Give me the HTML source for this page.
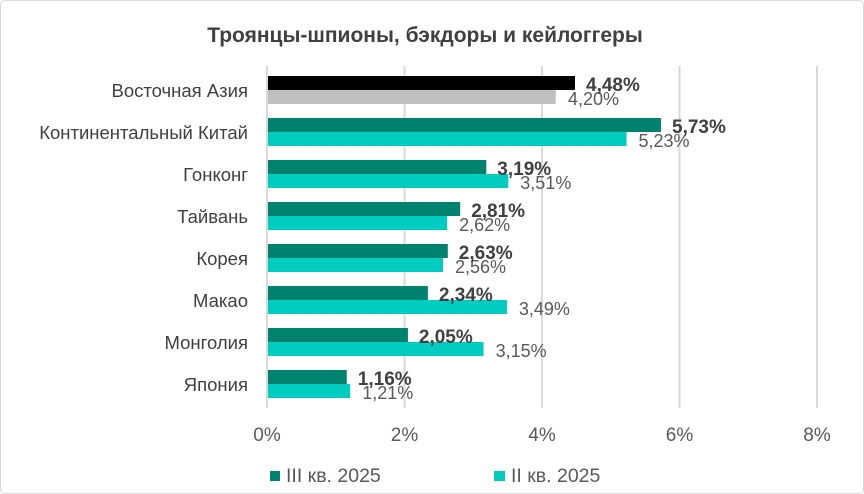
<!DOCTYPE html><html><head><meta charset="utf-8"><style>body{margin:0;background:#fff}svg{display:block;font-family:"Liberation Sans",sans-serif}</style></head><body>
<svg width="864" height="494" viewBox="0 0 864 494" xmlns="http://www.w3.org/2000/svg">
<rect x="0.5" y="0.5" width="863" height="493" rx="4" fill="#fff" stroke="#d9d9d9"/>
<text x="425" y="42" text-anchor="middle" font-size="21" font-weight="bold" fill="#404040">Троянцы-шпионы, бэкдоры и кейлоггеры</text>
<g stroke="#d9d9d9" stroke-width="2">
<line x1="267" y1="66" x2="267" y2="408"/><line x1="404.5" y1="66" x2="404.5" y2="408"/><line x1="542" y1="66" x2="542" y2="408"/><line x1="679.5" y1="66" x2="679.5" y2="408"/><line x1="817" y1="66" x2="817" y2="408"/>
</g>
<g font-size="19" fill="#595959" text-anchor="middle">
<text x="267" y="441">0%</text><text x="404.5" y="441">2%</text><text x="542" y="441">4%</text><text x="679.5" y="441">6%</text><text x="817" y="441">8%</text>
</g>
<g font-size="18.5" fill="#404040" text-anchor="end">
<text x="248" y="97">Восточная Азия</text>
<text x="248" y="139">Континентальный Китай</text>
<text x="248" y="181">Гонконг</text>
<text x="248" y="223">Тайвань</text>
<text x="248" y="265">Корея</text>
<text x="248" y="307">Макао</text>
<text x="248" y="349">Монголия</text>
<text x="248" y="391">Япония</text>
</g>
<rect x="268" y="76" width="307" height="14" fill="#000"/><rect x="268" y="90" width="287.75" height="14" fill="#bfbfbf"/>
<rect x="268" y="118" width="392.94" height="14" fill="#00836e"/><rect x="268" y="132" width="358.56" height="14" fill="#00cdc0"/>
<rect x="268" y="160" width="218.31" height="14" fill="#00836e"/><rect x="268" y="174" width="240.31" height="14" fill="#00cdc0"/>
<rect x="268" y="202" width="192.19" height="14" fill="#00836e"/><rect x="268" y="216" width="179.13" height="14" fill="#00cdc0"/>
<rect x="268" y="244" width="179.81" height="14" fill="#00836e"/><rect x="268" y="258" width="175" height="14" fill="#00cdc0"/>
<rect x="268" y="286" width="159.88" height="14" fill="#00836e"/><rect x="268" y="300" width="238.94" height="14" fill="#00cdc0"/>
<rect x="268" y="328" width="139.94" height="14" fill="#00836e"/><rect x="268" y="342" width="215.56" height="14" fill="#00cdc0"/>
<rect x="268" y="370" width="78.75" height="14" fill="#00836e"/><rect x="268" y="384" width="82.19" height="14" fill="#00cdc0"/>
<g font-size="18" fill="#595959">
<text x="568" y="105">4,20%</text>
<text x="638.5" y="147">5,23%</text>
<text x="520.3" y="189">3,51%</text>
<text x="459.1" y="231">2,62%</text>
<text x="455" y="273">2,56%</text>
<text x="518.9" y="315">3,49%</text>
<text x="495.6" y="357">3,15%</text>
<text x="362.2" y="399">1,21%</text>
</g>
<g font-size="19" font-weight="bold" fill="#404040">
<text x="586" y="91">4,48%</text>
<text x="672" y="133">5,73%</text>
<text x="497.3" y="175">3,19%</text>
<text x="471.2" y="217">2,81%</text>
<text x="458.8" y="259">2,63%</text>
<text x="438.9" y="301">2,34%</text>
<text x="418.9" y="343">2,05%</text>
<text x="357.8" y="385">1,16%</text>
</g>
<rect x="270" y="471" width="10" height="10" fill="#00836e"/>
<text x="286" y="482" font-size="19.5" fill="#595959">III кв. 2025</text>
<rect x="494" y="471" width="11" height="10" fill="#00cdc0"/>
<text x="511" y="482" font-size="19.5" fill="#595959">II кв. 2025</text>
</svg></body></html>
